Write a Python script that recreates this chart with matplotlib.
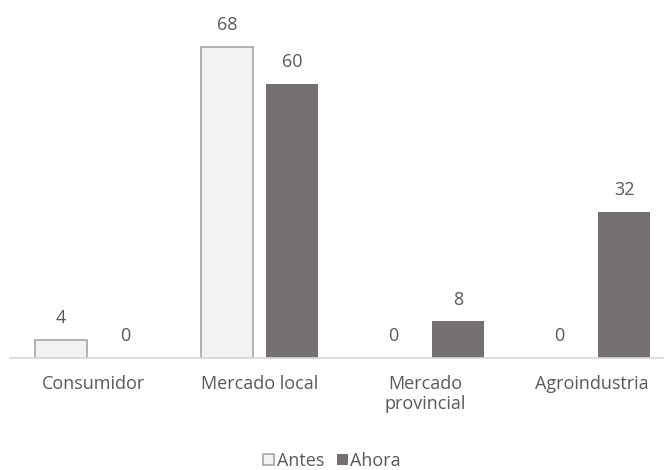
import matplotlib.pyplot as plt
import numpy as np

categorias = ['Consumidor', 'Mercado local', 'Mercado\nprovincial', 'Agroindustria']
antes = [4, 68, 0, 0]
ahora = [0, 60, 8, 32]

plt.rcParams['font.family'] = ['Open Sans', 'DejaVu Sans']
txt = '#595959'
fs = 13

fig = plt.figure(figsize=(6.64, 4.70), dpi=100)
# el eje se extiende un poco más allá del borde derecho
ax = fig.add_axes([10 / 664, 112 / 470, 665 / 664, 320 / 470])

x = np.arange(len(categorias))
w = 0.313
gap = 0.078
b1 = ax.bar(x - (w + gap) / 2, antes, w, color='#F2F2F2', edgecolor='#A6A6A6',
            linewidth=1.2, label='Antes')
b2 = ax.bar(x + (w + gap) / 2, ahora, w, color='#767171', label='Ahora')

# sin borde para las barras de altura cero
for r in b1:
    if r.get_height() == 0:
        r.set_linewidth(0)

# etiquetas de valor encima de cada barra
for barras in (b1, b2):
    for r in barras:
        ax.annotate(f'{r.get_height():g}', (r.get_x() + r.get_width() / 2, r.get_height()),
                    xytext=(0, 12), textcoords='offset points', ha='center', va='baseline',
                    fontsize=fs, color=txt, annotation_clip=False)

ax.set_xlim(-0.5, 3.5)
ax.set_ylim(0, 70)
ax.set_xticks(x)
ax.set_xticklabels(categorias, fontsize=fs, color=txt, linespacing=1.2)
ax.tick_params(axis='x', length=0, pad=12)
ax.set_yticks([])
for s in ('top', 'right', 'left'):
    ax.spines[s].set_visible(False)
ax.spines['bottom'].set_color('#D9D9D9')
ax.spines['bottom'].set_linewidth(1.2)

leg = fig.legend(handles=[b1, b2], loc='center', bbox_to_anchor=(332 / 664, 1 - 461 / 470),
                 ncol=2, frameon=False, fontsize=fs, handlelength=0.6, handleheight=0.6,
                 handletextpad=0.15, columnspacing=0.7)
for t in leg.get_texts():
    t.set_color(txt)

fig.savefig('out.png', dpi=100)
